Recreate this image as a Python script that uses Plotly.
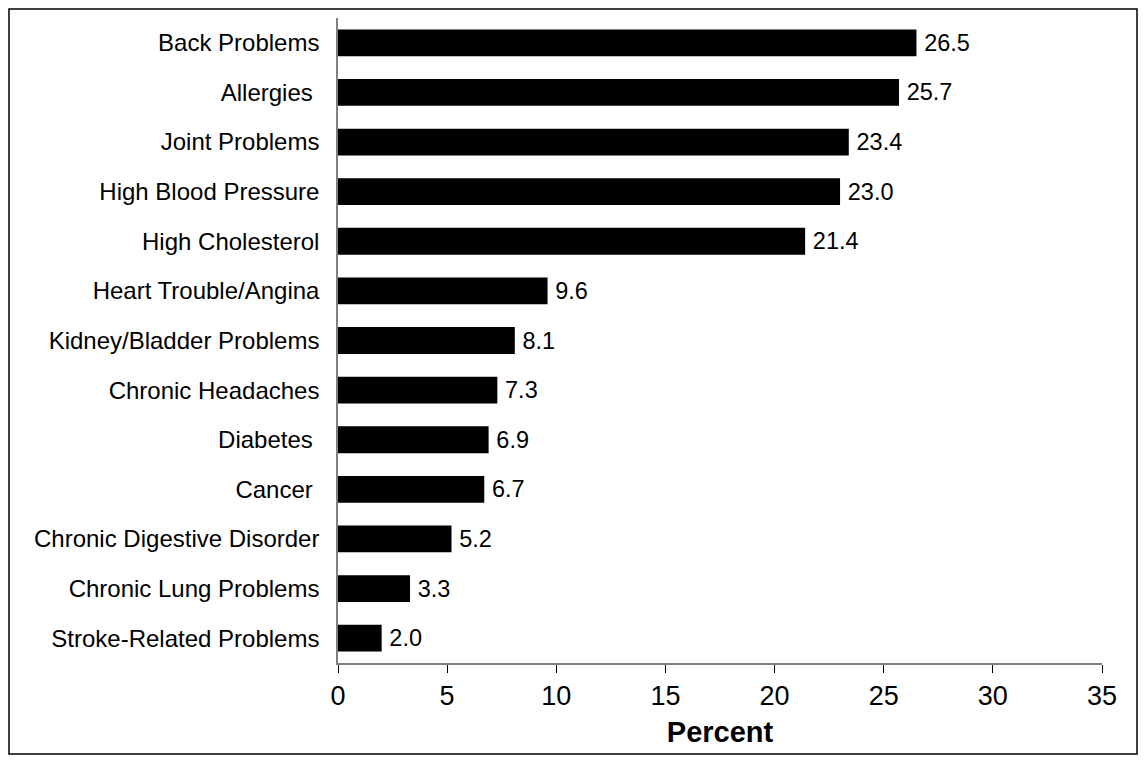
import plotly.graph_objects as go

categories = ["Back Problems", "Allergies ", "Joint Problems", "High Blood Pressure",
              "High Cholesterol", "Heart Trouble/Angina", "Kidney/Bladder Problems",
              "Chronic Headaches", "Diabetes ", "Cancer ", "Chronic Digestive Disorder",
              "Chronic Lung Problems", "Stroke-Related Problems"]
values = [26.5, 25.7, 23.4, 23.0, 21.4, 9.6, 8.1, 7.3, 6.9, 6.7, 5.2, 3.3, 2.0]
x_ticks = [0, 5, 10, 15, 20, 25, 30, 35]

# page has an 8px body margin; figure coordinates are shifted accordingly
W, H = 1130, 747
L, R, T, B = 330, 1094, 10, 655

fig = go.Figure(go.Bar(
    x=values, y=categories, orientation="h",
    marker=dict(color="black", line=dict(width=0)),
    width=0.54,
    text=["\u2009" + f"{v:.1f}" for v in values], textposition="outside",
    textfont=dict(family="Liberation Sans, Arial", size=23.5, color="black"),
    cliponaxis=False,
))

pw, ph = R - L, B - T
fig.add_shape(type="rect", xref="paper", yref="paper",
              x0=(1 - L) / pw, x1=(W - 1 - L) / pw,
              y0=-(H - 1 - B) / ph, y1=1 + (T - 1) / ph,
              line=dict(color="black", width=1.5), fillcolor="rgba(0,0,0,0)", layer="below")

fig.update_layout(
    width=W, height=H,
    margin=dict(l=L, r=W - R, t=T, b=H - B, pad=0),
    paper_bgcolor="white", plot_bgcolor="white",
    showlegend=False,
    font=dict(family="Liberation Sans, Arial", color="black"),
    xaxis=dict(range=[0, 35], tickvals=x_ticks, ticks="outside", ticklen=8, tickcolor="black",
               showline=True, linecolor="#808080", linewidth=1.5, showgrid=False, zeroline=False,
               tickfont=dict(size=27), title=dict(text="<b>Percent</b>", font=dict(size=29), standoff=12)),
    yaxis=dict(autorange="reversed", showline=True, linecolor="#808080", linewidth=1.5,
               showgrid=False, zeroline=False, ticks="", ticklabelstandoff=12,
               tickfont=dict(size=24)),
)

fig.write_html("out.html")
